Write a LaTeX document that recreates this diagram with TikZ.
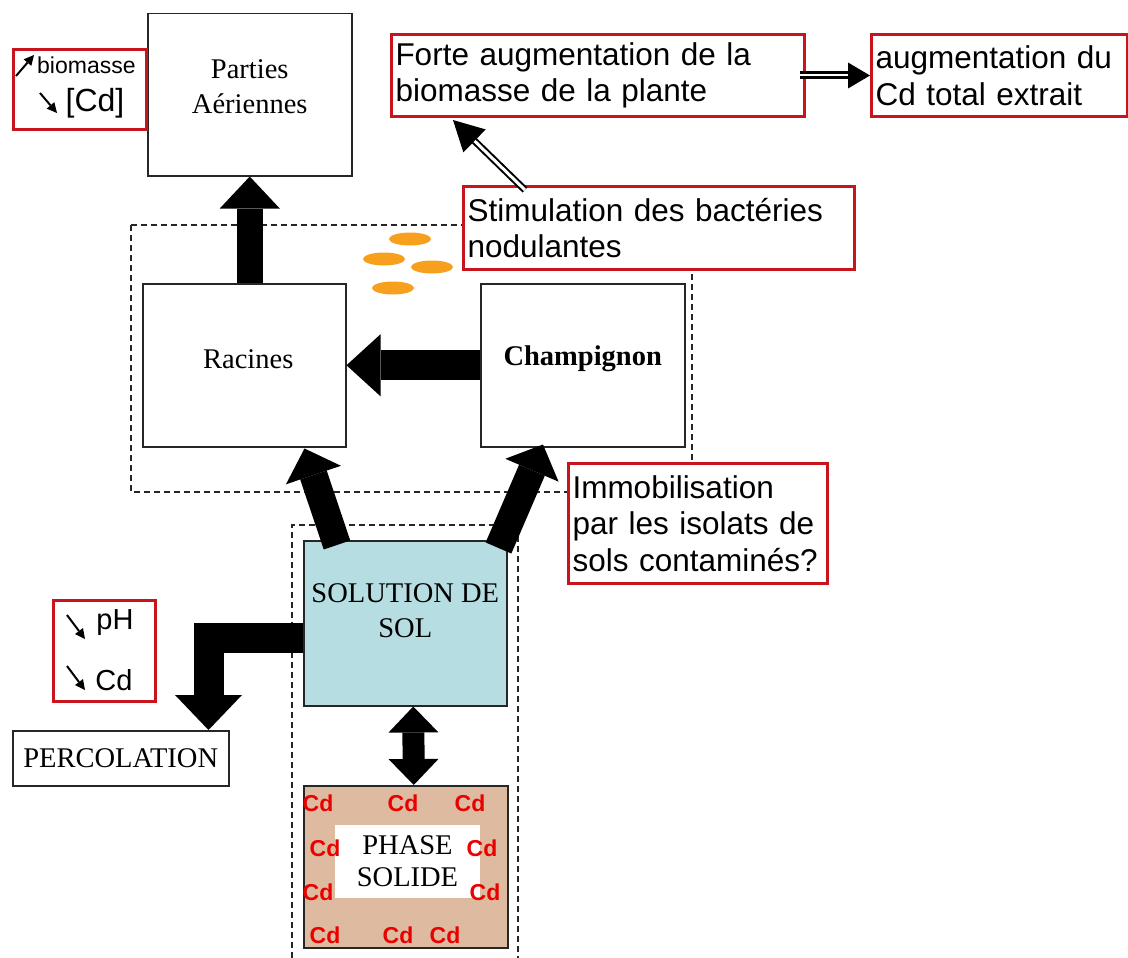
\documentclass[tikz,border=0pt]{standalone}
\usepackage{fontspec}
\setmainfont{Liberation Serif}
\newfontfamily\arialf{Liberation Sans}
\usetikzlibrary{arrows.meta,calc}
\definecolor{boxred}{RGB}{200,20,28}
\definecolor{cdred}{RGB}{235,0,0}
\definecolor{solblue}{RGB}{182,222,226}
\definecolor{soltan}{RGB}{222,186,160}
\definecolor{bact}{RGB}{247,160,30}
\tikzset{
  bbox/.style={draw=black!85, line width=1.5pt, fill=white, inner sep=0pt, anchor=north west},
  txt/.style={align=center, inner sep=0pt, font=\fontsize{28.5}{35}\selectfont},
  rbox/.style={draw=boxred, line width=3pt, fill=white, inner sep=4pt, align=left, anchor=north west,
     font=\arialf\fontsize{31.5}{36.5}\selectfont},
  atxt/.style={inner sep=0pt, font=\arialf\fontsize{29}{29}\selectfont},
  dashbox/.style={draw=black!85, line width=1.5pt, dash pattern=on 6pt off 4pt},
  bigarrow/.style args={#1/#2/#3}{draw=black, line width=#1, -{Triangle[length=#2, width=#3, line width=0pt]}},
  dblarrow/.style args={#1/#2/#3}{draw=black, line width=#1, {Triangle[length=#2, width=#3, line width=0pt]}-{Triangle[length=#2, width=#3, line width=0pt]}},
  smallarrow/.style={draw=black, line width=2pt, -{Triangle[length=10pt, width=10pt, line width=0pt]}},
  cdlab/.style={inner sep=0pt, text=cdred, font=\arialf\bfseries\fontsize{23}{23}\selectfont},
}
\begin{document}
\begin{tikzpicture}[x=1pt,y=-1pt]
\useasboundingbox (0,0) rectangle (1128,958);

% dashed regions
\draw[dashbox] (131,225) rectangle (692,492);
\draw[dashbox] (292,958) -- (292,525) -- (518,525) -- (518,958);

% black boxes
\node[bbox, minimum width=204, minimum height=162] (parties) at (147,13) {};
\node[txt] (partiestxt) at ($(parties.center)+(0,-8)$) {Parties\\Aériennes};

\node[bbox, minimum width=203, minimum height=163] (rac) at (142,283) {};
\node[txt] (ractxt) at ($(rac.center)+(4,-6)$) {Racines};

\node[bbox, minimum width=204, minimum height=163] (champ) at (480,283) {};
\node[txt, font=\bfseries\fontsize{28.5}{35}\selectfont] (champtxt) at ($(champ.center)+(0,-6)$) {Champignon};

\node[bbox, fill=solblue, minimum width=203, minimum height=165] (sol) at (303,540) {};
\node[txt, font=\fontsize{28.5}{35}\selectfont] (soltxt) at ($(sol.center)+(0,-13)$) {SOLUTION DE\\SOL};

\node[bbox, fill=soltan, minimum width=204, minimum height=162] (phase) at (303,785) {};
\node[txt, fill=white, minimum width=145, minimum height=73, font=\fontsize{28.5}{32}\selectfont] (phasetxt) at (407.5,861.5) {PHASE\\SOLIDE};

\node[bbox, minimum width=216, minimum height=55] (perc) at (12,730) {};
\node[txt] (perctxt) at (perc.center) {PERCOLATION};

% Cd labels
\node[cdlab] (cd1) at (318,803) {Cd};
\node[cdlab] (cd2) at (403,803) {Cd};
\node[cdlab] (cd3) at (470,803) {Cd};
\node[cdlab] (cd4) at (325,848) {Cd};
\node[cdlab] (cd5) at (482,848) {Cd};
\node[cdlab] (cd6) at (318,892) {Cd};
\node[cdlab] (cd7) at (485,892) {Cd};
\node[cdlab] (cd8) at (325,935) {Cd};
\node[cdlab] (cd9) at (398,935) {Cd};
\node[cdlab] (cd10) at (445,935) {Cd};

% bacteria
\fill[bact] (410,239) ellipse [x radius=21, y radius=6.5];
\fill[bact] (384,259) ellipse [x radius=21, y radius=6.5];
\fill[bact] (432,267) ellipse [x radius=21, y radius=6.5];
\fill[bact] (393,288) ellipse [x radius=21, y radius=6.5];

% big arrows
\draw[bigarrow=26pt/32pt/60pt] (parties.south |- rac.north) -- (parties.south);
\draw[bigarrow=30pt/34pt/62pt] (champ.west) -- (rac.east);
\draw[bigarrow=28pt/28pt/58pt] ($(sol.north west)+(34,5)$) -- ($(rac.south east)+(-42,1)$);
\draw[bigarrow=28pt/28pt/58pt] ($(sol.north east)+(-9,8)$) -- ($(champ.south west)+(63,-3)$);
\draw[dblarrow=22pt/26pt/50pt] ($(sol.south)+(8,0)$) -- ($(phase.north)+(8,0)$);
\draw[bigarrow=30pt/35pt/67pt, line join=miter] ($(sol.west)+(0,15)$) -| ($(perc.north east)+(-21,0)$);

% red boxes
\node[rbox, minimum width=413, minimum height=82, text width=405] (forte) at (390,33) {Forte augmentation de la\\biomasse de la plante};
\node[rbox, minimum width=256, minimum height=82, text width=248] (augm) at (870,33) {augmentation du\\Cd total extrait};
\node[rbox, minimum width=391, minimum height=83, text width=383] (stim) at (462,185) {Stimulation des bactéries\\nodulantes};
\node[rbox, minimum width=259, minimum height=120, text width=251] (immo) at (567,462) {Immobilisation\\par les isolats de\\sols contaminés?};

\node[rbox, minimum width=133, minimum height=80] (tl) at (12,48) {};
\node[inner sep=0pt, anchor=west, font=\arialf\fontsize{23}{23}\selectfont] (tlbio) at (37,65) {biomasse};
\node[inner sep=0pt, font=\arialf\fontsize{32}{32}\selectfont] (tlcd) at (95,103) {[Cd]};
\coordinate (up1) at (16,76);
\coordinate (up2) at (34,55);
\coordinate (dn1) at (40,93);
\coordinate (dn2) at (57,113);
\draw[smallarrow] (up1) -- (up2);
\draw[smallarrow] (dn1) -- (dn2);

\node[rbox, minimum width=102, minimum height=101] (ph) at (52,599) {};
\node[atxt] (phtxt) at (115,623) {pH};
\node[atxt] (cdtxt) at (114,680) {Cd};
\coordinate (p1) at (67,615);
\coordinate (p2) at (85,639);
\coordinate (c1) at (67,666);
\coordinate (c2) at (85,690);
\draw[smallarrow] (p1) -- (p2);
\draw[smallarrow] (c1) -- (c2);

% double-line arrows
\draw[line width=3pt, double distance=2pt, -{Triangle[length=22pt, width=26pt, line width=0pt]}] ($(forte.east)+(-6,0)$) -- (augm.west);
\draw[line width=2pt, double distance=3pt, -{Triangle[length=30pt, width=32pt, line width=0pt]}] ($(stim.north west)+(63,5)$) -- ($(forte.south west)+(63,2)$);
\end{tikzpicture}
\end{document}
